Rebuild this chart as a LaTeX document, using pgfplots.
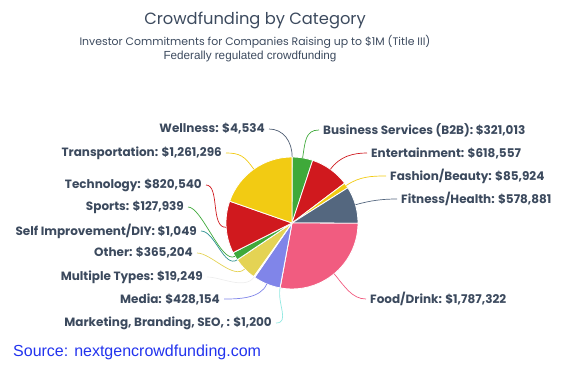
\documentclass[border=0pt]{standalone}
\usepackage{pgfplots}
\usepackage{pgfplotstable}
\pgfplotsset{compat=1.18}
\usepackage{fontspec}
\setmainfont{Poppins}
\newfontfamily\srcfont{Liberation Sans}

\definecolor{txt}{HTML}{3C4A5E}
\definecolor{src}{HTML}{2233EE}
\definecolor{cGrn}{HTML}{3FA93A}
\definecolor{cRed}{HTML}{D0191E}
\definecolor{cYel}{HTML}{F2CB13}
\definecolor{cSla}{HTML}{54677F}
\definecolor{cPnk}{HTML}{F15C80}
\definecolor{cCya}{HTML}{91E8E1}
\definecolor{cPur}{HTML}{8085E9}
\definecolor{cOth}{HTML}{E4D354}
\definecolor{cTea}{HTML}{2B908F}
\definecolor{cWel}{HTML}{4E5D73}
\definecolor{cWht}{HTML}{EEEEEE}

\pgfkeys{/pgf/number format/.cd, fixed, precision=0, 1000 sep={,}, assume math mode=true}

% name; value; colour; label x; label y (pixels from top); side
\pgfplotstableread[col sep=semicolon]{
name;value;col;lx;ly;side
Wellness;4534;cWel;265;129;L
Business Services (B2B);321013;cGrn;323;130;R
Entertainment;618557;cRed;371;153;R
Fashion/Beauty;85924;cYel;390;176;R
Fitness/Health;578881;cSla;401;199;R
Food/Drink;1787322;cPnk;370;299;R
Marketing, Branding, SEO,\space;1200;cCya;272;323;L
Media;428154;cPur;220;299;L
Multiple Types;19249;cWht;203;277;L
Other;365204;cOth;193;253;L
Self Improvement/DIY;1049;cTea;197;231;L
Sports;127939;cGrn;184;207;L
Technology;820540;cRed;202;185;L
Transportation;1261296;cYel;222;153;L
}\piedata

\def\Ltok{L}
\begin{document}
\begin{tikzpicture}
\begin{axis}[hide axis, scale only axis, width=567pt, height=372pt,
  xmin=0, xmax=567, ymin=-372, ymax=0, clip=false]
\addplot[draw=none] coordinates {(0,0) (567,-372)};
\pgfplotsextra{
  \def\cx{292}\def\cy{-223}\def\r{66}
  \gdef\total{0}
  \foreach \i in {0,...,13}{
    \pgfplotstablegetelem{\i}{value}\of\piedata
    \xdef\total{\fpeval{\total+\pgfplotsretval}}
  }
  \gdef\cum{0}
  \foreach \i in {0,...,13}{
    \pgfplotstablegetelem{\i}{value}\of\piedata \edef\v{\pgfplotsretval}
    \pgfplotstablegetelem{\i}{col}\of\piedata \edef\c{\pgfplotsretval}
    \edef\a{\fpeval{90-360*\cum/\total}}
    \xdef\cum{\fpeval{\cum+\v}}
    \edef\b{\fpeval{90-360*\cum/\total}}
    \fill[\c, draw=white, line width=0.8pt, line join=round]
      (axis cs:\cx,\cy) -- (axis cs:{\fpeval{\cx+\r*cosd(\a)}},{\fpeval{\cy+\r*sind(\a)}})
      arc[start angle=\a, end angle=\b, radius=\r pt] -- cycle;
  }
  \gdef\cum{0}
  \foreach \i in {0,...,13}{
    \pgfplotstablegetelem{\i}{value}\of\piedata \edef\v{\pgfplotsretval}
    \pgfplotstablegetelem{\i}{col}\of\piedata \edef\c{\pgfplotsretval}
    \pgfplotstablegetelem{\i}{name}\of\piedata \let\nm\pgfplotsretval
    \pgfplotstablegetelem{\i}{lx}\of\piedata \edef\lx{\pgfplotsretval}
    \pgfplotstablegetelem{\i}{ly}\of\piedata \edef\ly{\pgfplotsretval}
    \pgfplotstablegetelem{\i}{side}\of\piedata \edef\sd{\pgfplotsretval}
    \edef\a{\fpeval{90-360*\cum/\total}}
    \xdef\cum{\fpeval{\cum+\v}}
    \edef\b{\fpeval{90-360*\cum/\total}}
    \edef\m{\fpeval{(\a+\b)/2}}
    \ifx\sd\Ltok \def\dir{-1}\def\anc{east}\else \def\dir{1}\def\anc{west}\fi
    \edef\ex{\fpeval{\lx-\dir*4}}
    \draw[\c, line width=0.7pt]
      (axis cs:{\fpeval{\cx+\r*cosd(\m)}},{\fpeval{\cy+\r*sind(\m)}})
      .. controls (axis cs:{\fpeval{\cx+(\r+16)*cosd(\m)}},{\fpeval{\cy+(\r+16)*sind(\m)}})
      and (axis cs:{\fpeval{\ex-\dir*14}},-\ly) ..
      (axis cs:\ex,-\ly);
    \node[anchor=\anc, inner sep=0pt, text=txt, font=\bfseries\fontsize{12}{14}\selectfont]
      at (axis cs:\lx,-\ly) {\nm: \$\pgfmathprintnumber{\v}};
  }
  \node[text=txt, font=\fontsize{16.3}{19}\selectfont] at (axis cs:255,-20) {Crowdfunding by Category};
  \node[text=txt, font=\fontsize{10.9}{13}\selectfont] at (axis cs:255,-42) {Investor Commitments for Companies Raising up to \$1M (Title III)};
  \node[text=txt, font=\srcfont\fontsize{11.7}{13}\selectfont] at (axis cs:250,-56) {Federally regulated crowdfunding};
  \node[anchor=west, inner sep=0pt, text=src, font=\srcfont\fontsize{16}{18}\selectfont] at (axis cs:13,-352) {Source: nextgencrowdfunding.com};
}
\end{axis}
\end{tikzpicture}
\end{document}
